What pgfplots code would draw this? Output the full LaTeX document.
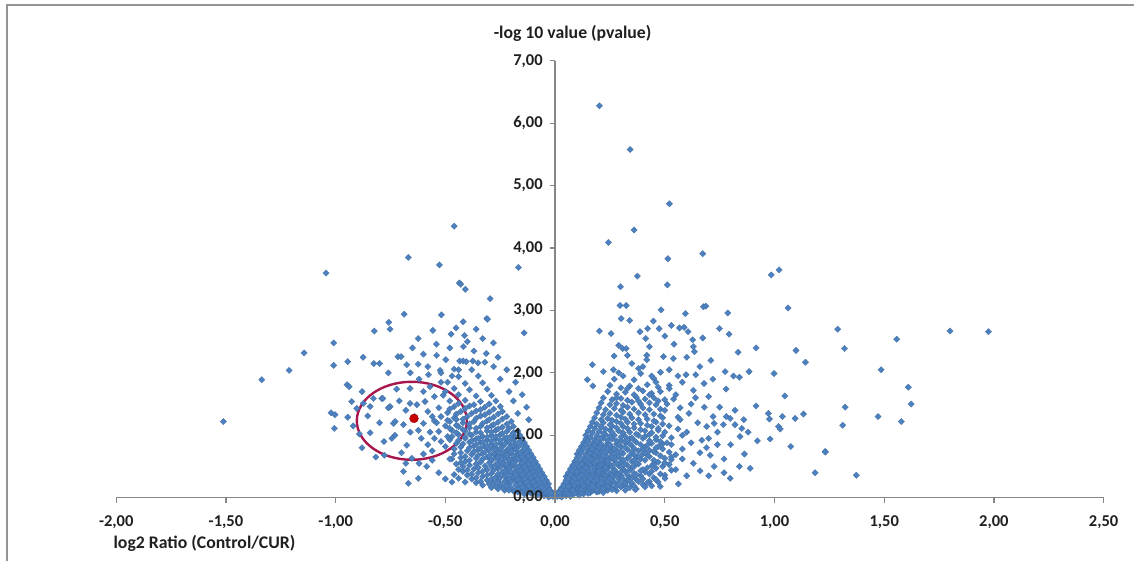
\documentclass[border=0pt]{standalone}
\usepackage{pgfplots}
\pgfplotsset{compat=1.18}
\usepackage{fontspec}
\setmainfont{Carlito}
\definecolor{ptblue}{RGB}{76,128,190}
\definecolor{axgray}{RGB}{134,134,134}
\definecolor{ellc}{RGB}{168,22,78}
\definecolor{dotred}{RGB}{196,0,0}
\pgfplotsset{pts/.style={only marks, mark=square*, mark size=1.7pt,
  mark options={rotate=45, fill=ptblue, draw=ptblue!85!black, line width=0.15pt}},
  geom/.style={at={(87.2pt,47.5pt)}, anchor=south west,
  scale only axis, width=740.5pt, height=327.6pt,
  xmin=-2, xmax=2.5, ymin=0, ymax=7, clip=false}}
\begin{document}
\begin{tikzpicture}
\useasboundingbox (0,0) rectangle (850.5pt,420.75pt);
\draw[color=black!42, line width=1.1pt] (5.25pt,0pt) -- (5.25pt,417pt) -- (850.5pt,417pt);
\begin{axis}[geom, hide axis]
% right core
\addplot[pts] coordinates {
(0.01,0.02) (0.03,0.01) (0.05,0.03) (0.07,0.02) (0.02,0.05) (0.04,0.04) (0.01,0.07) (0.03,0.07) (0.05,0.06) (0.08,0.05) (0.10,0.07) (0.13,0.06) (0.16,0.08) (0.06,0.09) (0.11,0.04)
(0.02,0.11) (0.04,0.10) (0.06,0.12) (0.09,0.11) (0.11,0.10) (0.14,0.12) (0.17,0.11) (0.20,0.10) (0.24,0.12) (0.28,0.11)
(0.03,0.16) (0.05,0.17) (0.07,0.15) (0.10,0.16) (0.12,0.18) (0.15,0.16) (0.18,0.15) (0.21,0.17) (0.23,0.16) (0.26,0.15) (0.30,0.17) (0.34,0.16) (0.37,0.14)
(0.04,0.22) (0.06,0.21) (0.08,0.23) (0.11,0.22) (0.13,0.20) (0.16,0.22) (0.19,0.23) (0.22,0.21) (0.25,0.22) (0.27,0.24) (0.31,0.21) (0.35,0.23) (0.40,0.21) (0.44,0.19)
(0.05,0.28) (0.07,0.27) (0.09,0.29) (0.12,0.28) (0.14,0.26) (0.17,0.28) (0.20,0.29) (0.23,0.27) (0.26,0.28) (0.29,0.30) (0.33,0.27) (0.37,0.29) (0.43,0.26)
(0.05,0.34) (0.08,0.33) (0.10,0.35) (0.13,0.34) (0.15,0.32) (0.18,0.34) (0.21,0.35) (0.24,0.33) (0.27,0.34) (0.30,0.36) (0.34,0.33) (0.39,0.35) (0.45,0.32)
(0.06,0.40) (0.09,0.39) (0.11,0.41) (0.14,0.40) (0.16,0.38) (0.19,0.40) (0.22,0.41) (0.25,0.39) (0.28,0.40) (0.32,0.42) (0.36,0.39) (0.41,0.41) (0.48,0.38)
(0.07,0.46) (0.10,0.45) (0.12,0.47) (0.15,0.46) (0.18,0.44) (0.21,0.46) (0.24,0.47) (0.27,0.45) (0.31,0.46) (0.35,0.48) (0.40,0.45) (0.46,0.47)
(0.08,0.52) (0.11,0.51) (0.13,0.53) (0.16,0.52) (0.19,0.50) (0.22,0.52) (0.25,0.53) (0.29,0.51) (0.33,0.52) (0.38,0.54) (0.44,0.51) (0.52,0.53)
(0.09,0.58) (0.12,0.57) (0.15,0.59) (0.17,0.58) (0.20,0.56) (0.23,0.58) (0.27,0.59) (0.30,0.57) (0.35,0.58) (0.41,0.60) (0.47,0.57)
(0.10,0.64) (0.13,0.63) (0.16,0.65) (0.19,0.64) (0.22,0.62) (0.25,0.64) (0.29,0.65) (0.33,0.63) (0.37,0.64) (0.43,0.66) (0.50,0.63)
(0.10,0.70) (0.14,0.69) (0.17,0.71) (0.20,0.70) (0.23,0.68) (0.27,0.70) (0.31,0.71) (0.36,0.69) (0.40,0.70) (0.46,0.72) (0.55,0.69)
(0.11,0.76) (0.15,0.75) (0.18,0.77) (0.21,0.76) (0.25,0.74) (0.28,0.76) (0.33,0.77) (0.38,0.75) (0.43,0.76) (0.49,0.78)
(0.12,0.82) (0.16,0.81) (0.19,0.83) (0.23,0.82) (0.26,0.80) (0.30,0.82) (0.35,0.83) (0.41,0.81) (0.47,0.82)
(0.13,0.88) (0.17,0.87) (0.20,0.89) (0.24,0.88) (0.28,0.86) (0.32,0.88) (0.37,0.89) (0.44,0.87) (0.51,0.88)
(0.14,0.94) (0.18,0.93) (0.22,0.95) (0.26,0.94) (0.30,0.92) (0.34,0.94) (0.40,0.95) (0.46,0.93)
(0.14,1.00) (0.19,0.99) (0.23,1.01) (0.27,1.00) (0.32,0.98) (0.38,1.00) (0.43,1.01) (0.49,0.99) (0.58,1.00)
(0.15,1.07) (0.20,1.06) (0.25,1.08) (0.29,1.07) (0.34,1.05) (0.41,1.07) (0.47,1.08)
(0.16,1.14) (0.21,1.13) (0.26,1.15) (0.31,1.14) (0.36,1.12) (0.44,1.14) (0.52,1.15)
(0.17,1.21) (0.22,1.20) (0.28,1.22) (0.33,1.21) (0.39,1.19) (0.46,1.21)
(0.18,1.28) (0.24,1.27) (0.30,1.29) (0.35,1.28) (0.42,1.26) (0.49,1.28) (0.56,1.29)
(0.19,1.36) (0.25,1.35) (0.31,1.37) (0.38,1.36) (0.45,1.34)
(0.20,1.44) (0.27,1.43) (0.33,1.45) (0.40,1.44) (0.48,1.42) (0.57,1.44)
(0.21,1.52) (0.28,1.51) (0.35,1.53) (0.43,1.52) (0.51,1.50)
(0.22,1.60) (0.30,1.59) (0.37,1.61) (0.45,1.60) (0.54,1.58)
(0.24,1.70) (0.32,1.69) (0.40,1.71) (0.48,1.70)
(0.25,1.80) (0.34,1.79) (0.42,1.81) (0.52,1.80)
(0.27,1.90) (0.36,1.89) (0.45,1.91)
(0.29,2.00) (0.39,1.99) (0.48,2.01)
(0.02,0.03) (0.04,0.08) (0.06,0.05) (0.09,0.08) (0.12,0.09) (0.15,0.10) (0.18,0.13) (0.08,0.14) (0.13,0.14) (0.19,0.19) (0.09,0.19) (0.14,0.25) (0.18,0.25) (0.10,0.31) (0.21,0.31) (0.16,0.36) (0.12,0.44) (0.20,0.48) (0.14,0.55) (0.18,0.61) (0.24,0.60) (0.21,0.67) (0.16,0.73) (0.26,0.73) (0.22,0.79)
};
% right core, second layer
\addplot[pts] coordinates {
(0.02,0.08) (0.05,0.09) (0.09,0.07) (0.12,0.08) (0.15,0.07) (0.19,0.09) (0.22,0.08)
(0.03,0.13) (0.05,0.14) (0.08,0.12) (0.12,0.13) (0.16,0.14) (0.19,0.12) (0.22,0.14) (0.26,0.13) (0.32,0.12)
(0.04,0.19) (0.06,0.18) (0.09,0.20) (0.13,0.19) (0.17,0.17) (0.20,0.20) (0.24,0.19) (0.28,0.18) (0.32,0.20) (0.36,0.19) (0.41,0.17)
(0.05,0.25) (0.08,0.26) (0.10,0.24) (0.15,0.25) (0.18,0.27) (0.21,0.24) (0.24,0.26) (0.29,0.25) (0.32,0.23) (0.38,0.26) (0.42,0.24) (0.47,0.25)
(0.06,0.31) (0.09,0.30) (0.11,0.32) (0.16,0.31) (0.19,0.29) (0.23,0.32) (0.25,0.31) (0.31,0.30) (0.35,0.32) (0.40,0.30) (0.46,0.29)
(0.07,0.37) (0.10,0.38) (0.12,0.36) (0.17,0.37) (0.20,0.38) (0.23,0.36) (0.26,0.37) (0.29,0.38) (0.33,0.36) (0.37,0.37) (0.43,0.38) (0.50,0.36)
(0.08,0.43) (0.10,0.42) (0.13,0.44) (0.17,0.43) (0.20,0.42) (0.23,0.44) (0.27,0.43) (0.30,0.41) (0.34,0.44) (0.39,0.43) (0.44,0.42) (0.53,0.44)
(0.09,0.49) (0.11,0.50) (0.14,0.48) (0.18,0.49) (0.20,0.51) (0.23,0.48) (0.26,0.50) (0.30,0.49) (0.36,0.50) (0.42,0.48) (0.49,0.50)
(0.10,0.55) (0.12,0.54) (0.15,0.56) (0.18,0.55) (0.21,0.53) (0.24,0.56) (0.28,0.55) (0.32,0.54) (0.37,0.56) (0.45,0.54) (0.50,0.56)
(0.10,0.61) (0.14,0.60) (0.16,0.62) (0.21,0.61) (0.24,0.59) (0.27,0.62) (0.31,0.61) (0.36,0.60) (0.39,0.62) (0.45,0.60) (0.53,0.61)
(0.11,0.67) (0.15,0.66) (0.18,0.68) (0.22,0.67) (0.26,0.66) (0.29,0.68) (0.34,0.67) (0.38,0.66) (0.42,0.68) (0.48,0.67)
(0.12,0.73) (0.16,0.72) (0.19,0.74) (0.23,0.73) (0.27,0.71) (0.30,0.74) (0.35,0.73) (0.41,0.72) (0.45,0.74) (0.52,0.73)
(0.13,0.79) (0.17,0.78) (0.20,0.80) (0.24,0.79) (0.27,0.78) (0.32,0.80) (0.36,0.79) (0.40,0.78) (0.46,0.80)
(0.14,0.85) (0.18,0.84) (0.21,0.86) (0.25,0.85) (0.29,0.84) (0.34,0.86) (0.39,0.85) (0.42,0.84) (0.49,0.86)
(0.15,0.91) (0.19,0.90) (0.24,0.92) (0.28,0.91) (0.32,0.90) (0.36,0.92) (0.43,0.91) (0.48,0.90)
(0.16,0.97) (0.21,0.96) (0.25,0.98) (0.30,0.97) (0.35,0.96) (0.41,0.98) (0.46,0.97) (0.53,0.96)
(0.17,1.04) (0.22,1.03) (0.26,1.05) (0.31,1.04) (0.37,1.02) (0.44,1.04) (0.50,1.05)
(0.18,1.11) (0.23,1.10) (0.28,1.12) (0.33,1.11) (0.39,1.09) (0.47,1.11)
(0.19,1.18) (0.25,1.17) (0.30,1.19) (0.36,1.18) (0.42,1.16) (0.49,1.18)
(0.21,1.25) (0.26,1.24) (0.32,1.26) (0.38,1.25) (0.45,1.23)
(0.22,1.33) (0.28,1.32) (0.34,1.34) (0.41,1.33) (0.48,1.31)
(0.23,1.41) (0.30,1.40) (0.36,1.42) (0.43,1.41)
(0.25,1.49) (0.31,1.48) (0.39,1.50) (0.46,1.49)
(0.26,1.57) (0.33,1.56) (0.41,1.58) (0.50,1.57)
(0.28,1.66) (0.36,1.65) (0.44,1.67)
(0.30,1.76) (0.38,1.75) (0.47,1.77)
};
% right spread and outliers
\addplot[pts] coordinates {
(0.202,2.67) (0.255,2.63) (0.387,2.66) (0.422,2.71) (0.448,2.83) (0.474,2.71) (0.50,2.59) (0.530,2.76) (0.567,2.72) (0.588,2.73) (0.606,2.66) (0.627,2.53) (0.673,2.56) (0.749,2.71) (0.793,2.62) (0.916,2.40) (0.834,2.33) (1.098,2.36) (1.288,2.70) (0.413,2.55) (0.430,2.42) (0.542,2.46) (0.290,2.44) (0.308,2.39) (0.324,2.39) (0.269,2.27) (0.330,2.28) (0.418,2.28) (0.494,2.26) (0.539,2.23) (0.630,2.42) (0.635,2.34) (0.296,3.08) (0.324,3.08) (0.301,2.87) (0.340,2.84) (0.483,3.01) (0.594,2.95) (0.676,3.06) (0.687,3.07) (0.787,2.96) (1.062,3.04) (0.298,3.38) (0.512,3.41) (0.375,3.55) (0.985,3.57) (1.021,3.65) (0.673,3.91) (0.514,3.83) (0.243,4.09) (0.360,4.29) (0.521,4.71) (0.342,5.58) (0.202,6.28)
(1.141,2.17) (0.170,2.13) (0.220,2.02) (0.147,1.89) (0.172,1.79) (0.266,2.05) (0.380,2.07) (0.418,2.21) (0.597,1.97) (0.641,1.97) (0.679,1.83) (0.719,1.90) (0.779,1.74) (0.775,2.02) (0.813,1.95) (0.840,1.93) (0.884,2.02) (0.998,1.99) (1.047,1.63) (0.916,1.47) (0.972,1.35) (0.977,1.26) (1.018,1.14) (1.036,1.30) (1.094,1.27) (1.132,1.34) (0.922,0.91) (0.980,0.94) (1.074,0.82) (1.231,0.74) (1.185,0.40) (0.798,0.31) (0.889,0.47) (0.840,0.50) (0.863,0.70) (0.843,0.98) (0.851,1.11) (0.820,1.17) (0.798,1.27) (0.767,1.17) (0.725,1.19) (0.691,1.14) (0.669,0.92) (0.707,0.68) (0.725,0.50) (0.661,0.43) (0.562,0.22) (0.501,0.31) (0.479,0.18) (0.365,0.13)
(1.486,2.05) (1.610,1.77) (1.623,1.50) (1.322,1.45) (1.311,1.16) (1.472,1.30) (1.578,1.22) (1.026,1.10) (1.232,0.73) (1.373,0.36) (1.319,2.39) (1.557,2.54) (1.800,2.67) (1.975,2.66)
(0.60,0.35) (0.63,0.55) (0.58,0.78) (0.62,0.88) (0.66,0.72) (0.70,0.95) (0.74,0.85) (0.77,0.62) (0.72,1.30) (0.65,1.20) (0.61,1.35) (0.68,1.45) (0.64,1.60) (0.70,1.62) (0.75,1.45) (0.78,1.30) (0.82,1.40) (0.86,1.25) (0.88,1.05) (0.55,0.45) (0.58,0.62) (0.53,0.85) (0.56,1.10) (0.60,1.05) (0.63,1.72) (0.58,1.85) (0.55,1.65) (0.66,2.10) (0.71,2.20) (0.60,2.25) (0.52,2.05) (0.56,1.95) (0.62,1.50) (0.69,0.80) (0.74,1.05) (0.80,0.85) (0.77,0.40) (0.70,0.35) (0.53,0.65) (0.57,1.25) (0.50,1.40) (0.52,1.75) (0.46,1.85) (0.44,1.95) (0.40,2.10) (0.35,2.15) (0.31,1.95) (0.33,1.75) (0.28,1.60) (0.38,1.55) (0.47,1.55) (0.43,1.65)
};
% left core
\addplot[pts] coordinates {
(-0.01,0.02) (-0.03,0.01) (-0.05,0.03) (-0.02,0.05) (-0.04,0.07)
(-0.01,0.07) (-0.03,0.06) (-0.06,0.06) (-0.08,0.05) (-0.11,0.07) (-0.14,0.06)
(-0.02,0.11) (-0.04,0.10) (-0.06,0.12) (-0.09,0.11) (-0.12,0.10) (-0.15,0.12) (-0.19,0.11) (-0.23,0.12)
(-0.03,0.16) (-0.05,0.17) (-0.07,0.15) (-0.10,0.16) (-0.13,0.18) (-0.16,0.16) (-0.20,0.15) (-0.24,0.17) (-0.29,0.16)
(-0.03,0.22) (-0.06,0.21) (-0.08,0.23) (-0.11,0.22) (-0.14,0.20) (-0.17,0.22) (-0.21,0.23) (-0.25,0.21) (-0.30,0.22) (-0.36,0.24)
(-0.04,0.28) (-0.07,0.27) (-0.09,0.29) (-0.12,0.28) (-0.15,0.26) (-0.18,0.28) (-0.22,0.29) (-0.26,0.27) (-0.31,0.28) (-0.38,0.30)
(-0.05,0.34) (-0.08,0.33) (-0.10,0.35) (-0.13,0.34) (-0.16,0.32) (-0.19,0.34) (-0.23,0.35) (-0.27,0.33) (-0.33,0.34) (-0.40,0.36)
(-0.06,0.40) (-0.09,0.39) (-0.11,0.41) (-0.14,0.40) (-0.17,0.38) (-0.20,0.40) (-0.24,0.41) (-0.29,0.39) (-0.35,0.40) (-0.42,0.42)
(-0.07,0.46) (-0.10,0.45) (-0.12,0.47) (-0.15,0.46) (-0.18,0.44) (-0.22,0.46) (-0.26,0.47) (-0.31,0.45) (-0.37,0.46)
(-0.08,0.52) (-0.11,0.51) (-0.13,0.53) (-0.16,0.52) (-0.20,0.50) (-0.23,0.52) (-0.27,0.53) (-0.32,0.51) (-0.39,0.52) (-0.45,0.54)
(-0.09,0.58) (-0.12,0.57) (-0.15,0.59) (-0.18,0.58) (-0.21,0.56) (-0.25,0.58) (-0.29,0.59) (-0.34,0.57) (-0.41,0.58)
(-0.10,0.64) (-0.13,0.63) (-0.16,0.65) (-0.19,0.64) (-0.23,0.62) (-0.27,0.64) (-0.31,0.65) (-0.36,0.63) (-0.43,0.64)
(-0.11,0.70) (-0.14,0.69) (-0.17,0.71) (-0.21,0.70) (-0.24,0.68) (-0.28,0.70) (-0.33,0.71) (-0.38,0.69) (-0.46,0.70)
(-0.12,0.76) (-0.15,0.75) (-0.19,0.77) (-0.22,0.76) (-0.26,0.74) (-0.30,0.76) (-0.35,0.77) (-0.40,0.75)
(-0.13,0.82) (-0.17,0.81) (-0.20,0.83) (-0.24,0.82) (-0.28,0.80) (-0.32,0.82) (-0.37,0.83) (-0.43,0.81) (-0.50,0.82)
(-0.14,0.88) (-0.18,0.87) (-0.22,0.89) (-0.25,0.88) (-0.29,0.86) (-0.34,0.88) (-0.39,0.89) (-0.45,0.87)
(-0.15,0.94) (-0.19,0.93) (-0.23,0.95) (-0.27,0.94) (-0.31,0.92) (-0.36,0.94) (-0.41,0.95) (-0.48,0.93)
(-0.16,1.00) (-0.20,0.99) (-0.25,1.01) (-0.29,1.00) (-0.33,0.98) (-0.38,1.00) (-0.44,1.01)
(-0.17,1.07) (-0.22,1.06) (-0.27,1.08) (-0.31,1.07) (-0.36,1.05) (-0.41,1.07) (-0.47,1.08) (-0.53,1.06)
(-0.19,1.14) (-0.24,1.13) (-0.29,1.15) (-0.34,1.14) (-0.39,1.12) (-0.44,1.14) (-0.50,1.15)
(-0.20,1.22) (-0.26,1.21) (-0.31,1.23) (-0.37,1.22) (-0.42,1.20) (-0.48,1.22) (-0.55,1.23)
(-0.22,1.30) (-0.28,1.29) (-0.34,1.31) (-0.40,1.30) (-0.46,1.28) (-0.52,1.30)
(-0.24,1.38) (-0.30,1.37) (-0.36,1.39) (-0.43,1.38) (-0.49,1.36)
(-0.25,1.46) (-0.32,1.45) (-0.39,1.47) (-0.46,1.46) (-0.53,1.44)
(-0.27,1.55) (-0.34,1.54) (-0.41,1.56) (-0.48,1.55)
(-0.29,1.64) (-0.36,1.63) (-0.44,1.65) (-0.51,1.64)
(-0.31,1.74) (-0.39,1.73) (-0.46,1.75)
(-0.33,1.84) (-0.41,1.83) (-0.49,1.85)
(-0.35,1.95) (-0.44,1.94)
(-0.38,2.05) (-0.46,2.06)
(-0.02,0.03) (-0.05,0.08) (-0.08,0.09) (-0.11,0.13) (-0.14,0.15) (-0.09,0.19) (-0.17,0.19) (-0.12,0.25) (-0.20,0.27) (-0.15,0.30) (-0.11,0.37) (-0.22,0.38) (-0.18,0.49) (-0.14,0.55) (-0.24,0.55) (-0.20,0.61) (-0.26,0.67) (-0.17,0.67) (-0.23,0.73) (-0.27,0.79)
};
% left core, second layer
\addplot[pts] coordinates {
(-0.02,0.08) (-0.04,0.09) (-0.07,0.07) (-0.10,0.09) (-0.13,0.08) (-0.17,0.09)
(-0.03,0.13) (-0.05,0.14) (-0.08,0.12) (-0.11,0.14) (-0.14,0.13) (-0.17,0.14) (-0.21,0.12) (-0.26,0.14)
(-0.04,0.19) (-0.06,0.18) (-0.09,0.20) (-0.12,0.19) (-0.15,0.17) (-0.18,0.20) (-0.22,0.19) (-0.27,0.18) (-0.33,0.20)
(-0.05,0.25) (-0.07,0.24) (-0.10,0.26) (-0.13,0.25) (-0.16,0.23) (-0.20,0.25) (-0.23,0.26) (-0.28,0.24) (-0.34,0.26) (-0.41,0.25)
(-0.06,0.31) (-0.08,0.30) (-0.11,0.32) (-0.14,0.31) (-0.17,0.29) (-0.21,0.31) (-0.25,0.32) (-0.29,0.30) (-0.36,0.32) (-0.44,0.31)
(-0.07,0.37) (-0.09,0.36) (-0.12,0.38) (-0.15,0.37) (-0.18,0.35) (-0.22,0.37) (-0.26,0.38) (-0.31,0.36) (-0.38,0.38) (-0.46,0.37)
(-0.08,0.43) (-0.10,0.42) (-0.13,0.44) (-0.16,0.43) (-0.20,0.41) (-0.23,0.43) (-0.28,0.44) (-0.33,0.42) (-0.40,0.44)
(-0.09,0.49) (-0.11,0.48) (-0.14,0.50) (-0.17,0.49) (-0.21,0.47) (-0.25,0.49) (-0.29,0.50) (-0.35,0.48) (-0.42,0.50)
(-0.10,0.55) (-0.12,0.54) (-0.15,0.56) (-0.19,0.55) (-0.22,0.53) (-0.26,0.55) (-0.30,0.56) (-0.36,0.54) (-0.43,0.56)
(-0.11,0.61) (-0.14,0.60) (-0.17,0.62) (-0.21,0.61) (-0.25,0.59) (-0.29,0.61) (-0.33,0.62) (-0.39,0.60) (-0.47,0.62)
(-0.12,0.67) (-0.15,0.66) (-0.19,0.68) (-0.22,0.67) (-0.26,0.65) (-0.30,0.67) (-0.35,0.68) (-0.41,0.66)
(-0.13,0.73) (-0.16,0.72) (-0.20,0.74) (-0.24,0.73) (-0.28,0.71) (-0.32,0.73) (-0.37,0.74) (-0.43,0.72)
(-0.14,0.79) (-0.18,0.78) (-0.21,0.80) (-0.25,0.79) (-0.30,0.77) (-0.34,0.79) (-0.39,0.80) (-0.46,0.78)
(-0.15,0.85) (-0.19,0.84) (-0.23,0.86) (-0.27,0.85) (-0.31,0.83) (-0.36,0.85) (-0.42,0.86)
(-0.16,0.91) (-0.21,0.90) (-0.25,0.92) (-0.29,0.91) (-0.33,0.89) (-0.38,0.91) (-0.44,0.92)
(-0.18,0.97) (-0.22,0.96) (-0.27,0.98) (-0.31,0.97) (-0.35,0.95) (-0.41,0.97) (-0.47,0.98)
(-0.19,1.04) (-0.24,1.03) (-0.29,1.05) (-0.34,1.04) (-0.39,1.02) (-0.45,1.04)
(-0.21,1.11) (-0.26,1.10) (-0.31,1.12) (-0.36,1.11) (-0.42,1.09) (-0.48,1.11)
(-0.22,1.18) (-0.28,1.17) (-0.33,1.19) (-0.39,1.18) (-0.45,1.16)
(-0.24,1.26) (-0.30,1.25) (-0.36,1.27) (-0.42,1.26) (-0.49,1.24)
(-0.26,1.34) (-0.32,1.33) (-0.38,1.35) (-0.45,1.34)
(-0.28,1.42) (-0.34,1.41) (-0.41,1.43) (-0.48,1.42)
(-0.30,1.50) (-0.37,1.49) (-0.44,1.51)
};
% left spread and outliers
\addplot[pts] coordinates {
(-0.460,4.35) (-0.669,3.85) (-0.527,3.73) (-1.044,3.60) (-0.167,3.69) (-0.436,3.44) (-0.430,3.42) (-0.409,3.34) (-0.296,3.19) (-0.688,2.94) (-0.518,2.93) (-0.311,2.87) (-0.308,2.86) (-0.758,2.81) (-0.752,2.70) (-0.451,2.72) (-0.419,2.82) (-0.824,2.67) (-0.557,2.68) (-0.474,2.62) (-0.413,2.60) (-0.141,2.64) (-0.624,2.55) (-1.009,2.48) (-0.541,2.46) (-0.418,2.42) (-0.281,2.48) (-1.144,2.32) (-0.314,2.31) (-0.875,2.25) (-0.716,2.26) (-0.702,2.26) (-0.498,2.21) (-0.435,2.19) (-0.420,2.19) (-0.405,2.18) (-0.375,2.19) (-0.351,2.16) (-0.320,2.17) (-0.945,2.18) (-1.009,2.12) (-1.212,2.04) (-0.826,2.15) (-0.800,2.15) (-0.676,2.13) (-0.624,2.14) (-0.577,1.97) (-0.524,2.04) (-0.520,2.00) (-1.337,1.89) (-1.512,1.22)
(-0.948,1.81) (-0.939,1.78) (-0.927,1.54) (-1.021,1.36) (-1.003,1.33) (-1.006,1.11) (-0.945,1.29) (-0.904,1.43) (-0.874,1.51) (-0.843,1.46) (-0.828,1.59) (-0.790,1.59) (-0.752,1.46) (-0.854,1.31) (-0.843,1.04) (-0.892,1.02) (-0.817,0.65) (-0.778,0.68) (-0.785,1.59) (-0.760,1.44) (-0.737,1.19) (-0.730,1.00) (-0.722,1.74) (-0.661,1.75) (-0.729,1.22) (-0.691,1.17) (-0.623,1.08) (-0.600,1.19) (-0.593,1.54) (-0.661,1.51) (-0.630,1.49) (-0.744,0.95) (-0.676,0.84) (-0.691,0.42) (-0.669,0.23) (-0.623,0.31) (-0.653,0.63) (-0.585,0.50)
(-0.60,1.70) (-0.57,1.78) (-0.55,1.62) (-0.58,1.38) (-0.56,1.30) (-0.54,1.20) (-0.57,1.05) (-0.55,0.95) (-0.52,0.90) (-0.58,0.85) (-0.61,0.95) (-0.64,1.30) (-0.68,1.40) (-0.71,1.55) (-0.66,1.05) (-0.70,0.72) (-0.60,0.70) (-0.56,0.60) (-0.53,0.40) (-0.50,0.30) (-0.47,0.25) (-0.62,0.55) (-0.80,1.20) (-0.78,0.90) (-0.88,0.80)
(-0.50,1.70) (-0.52,1.85) (-0.47,1.95) (-0.62,1.90) (-0.66,2.00) (-0.58,2.10) (-0.54,2.28) (-0.44,2.05) (-0.37,2.35) (-0.33,2.55) (-0.26,2.25) (-0.22,2.05) (-0.18,1.85) (-0.15,1.65) (-0.13,1.45) (-0.12,1.25) (-0.25,1.90) (-0.21,1.70) (-0.19,1.55) (-0.17,1.35) (-0.28,2.10) (-0.40,2.50) (-0.48,2.40) (-0.36,2.70) (-0.60,2.30) (-0.65,2.40) (-0.76,2.00) (-0.88,1.70) (-0.92,1.15) (-0.68,0.55) (-0.56,0.75) (-0.48,0.62) (-0.44,0.45) (-0.49,0.98) (-0.45,1.25)
};
\draw[ellc, line width=1.8pt] (axis cs:-0.653,1.232) ellipse [x radius=41.25pt, y radius=29.25pt];
\addplot[only marks, mark=*, mark size=3.3pt, mark options={fill=dotred, draw=dotred!80!black, line width=0.3pt}] coordinates {(-0.643,1.27)};
\end{axis}
% axes drawn on top of the points
\begin{axis}[geom,
  axis lines=middle,
  hide obscured x ticks=false, hide obscured y ticks=false,
  xtick={-2,-1.5,-1,-0.5,0,0.5,1,1.5,2,2.5},
  ytick={0,1,2,3,4,5,6,7},
  tick align=outside, major tick length=3.75pt,
  axis line style={axgray, line width=1.1pt, -},
  tick style={axgray, line width=0.9pt},
  every tick label/.append style={font=\fontsize{12.4}{15}\selectfont\bfseries, text=black!88},
  /pgf/number format/.cd, fixed, fixed zerofill, precision=2, use comma, assume math mode=true,
  /pgfplots/.cd,
  xticklabel style={anchor=north, yshift=-6pt},
  yticklabel style={anchor=east, xshift=-2pt},
]
\end{axis}
\node[anchor=west, font=\fontsize{13.3}{16}\selectfont\bfseries, text=black!88, inner sep=0pt] at (85pt,13.5pt) {log2 Ratio (Control/CUR)};
\node[font=\fontsize{13.3}{16}\selectfont\bfseries, text=black!88, inner sep=0pt] at (429.4pt,395.6pt) {-log 10 value (pvalue)};
\end{tikzpicture}
\end{document}
